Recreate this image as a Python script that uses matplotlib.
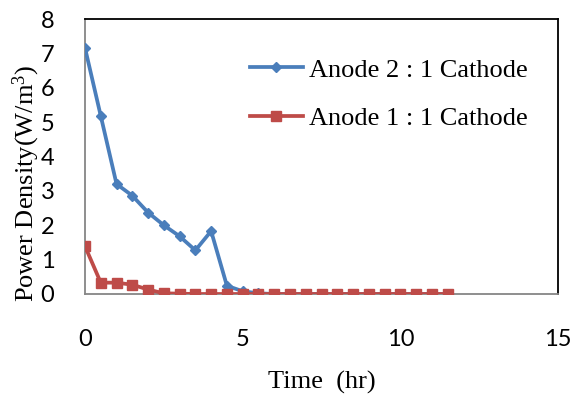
import matplotlib
matplotlib.use("Agg")
import matplotlib.pyplot as plt

time_hr = [0, 0.5, 1, 1.5, 2, 2.5, 3, 3.5, 4, 4.5, 5, 5.5, 6, 6.5, 7, 7.5, 8, 8.5,
           9, 9.5, 10, 10.5, 11, 11.5]
anode2 = [7.16, 5.18, 3.2, 2.86, 2.37, 2.0, 1.68, 1.27, 1.83, 0.24, 0.08, 0.02, 0, 0, 0,
          0, 0, 0, 0, 0, 0, 0, 0, 0]
anode1 = [1.39, 0.33, 0.33, 0.27, 0.13, 0.02, 0.01, 0, 0, 0, 0, 0, 0, 0, 0, 0, 0, 0,
          0, 0, 0, 0, 0, 0]
x_ticks = [0, 5, 10, 15]
y_ticks = [0, 1, 2, 3, 4, 5, 6, 7, 8]
label2 = "Anode 2 : 1 Cathode"
label1 = "Anode 1 : 1 Cathode"

blue = "#4A7EBB"
red = "#BE4B48"
serif = "Liberation Serif"
plt.rcParams["mathtext.fontset"] = "custom"
plt.rcParams["mathtext.rm"] = serif
plt.rcParams["mathtext.it"] = serif + ":italic"

fig = plt.figure(figsize=(5.79, 3.94), dpi=100)
ax = fig.add_axes([85/579, 100/394, 473/579, 275/394])

ax.plot(time_hr, anode2, color=blue, lw=2.7, marker="D", ms=5.5, label=label2, zorder=3)
ax.plot(time_hr, anode1, color=red, lw=2.7, marker="s", ms=6.8, label=label1, zorder=4)

ax.set_xlim(0, 15)
ax.set_ylim(0, 8)
ax.set_xticks(x_ticks)
ax.set_yticks(y_ticks)
tick_font = {"family": "Lato", "size": 17}
ax.set_xticklabels([str(v) for v in x_ticks], fontdict=tick_font)
ax.set_yticklabels([str(v) for v in y_ticks], fontdict=tick_font)
ax.tick_params(axis="both", length=0)
ax.tick_params(axis="x", pad=25)
ax.tick_params(axis="y", pad=22)

for s in ["left", "bottom"]:
    ax.spines[s].set_color("#868686")
    ax.spines[s].set_linewidth(1.3)
for s in ["top", "right"]:
    ax.spines[s].set_color("black")
    ax.spines[s].set_linewidth(1.3)

ax.set_xlabel("Time  (hr)", fontfamily=serif, fontsize=19)
ax.xaxis.set_label_coords((322 - 85) / 473, (294 - 371) / 275)
ax.set_ylabel(r"Power Density(W/m$^\mathregular{3}$)", fontfamily=serif, fontsize=19)
ax.yaxis.set_label_coords((42 - 85) / 473, 0.402)

leg = ax.legend(loc="center left", bbox_to_anchor=(0.349, 0.727), frameon=False,
                prop={"family": serif, "size": 19}, handlelength=2.0,
                handletextpad=0.25, labelspacing=0.95, borderpad=0, borderaxespad=0)

fig.savefig("out.png", dpi=100)
